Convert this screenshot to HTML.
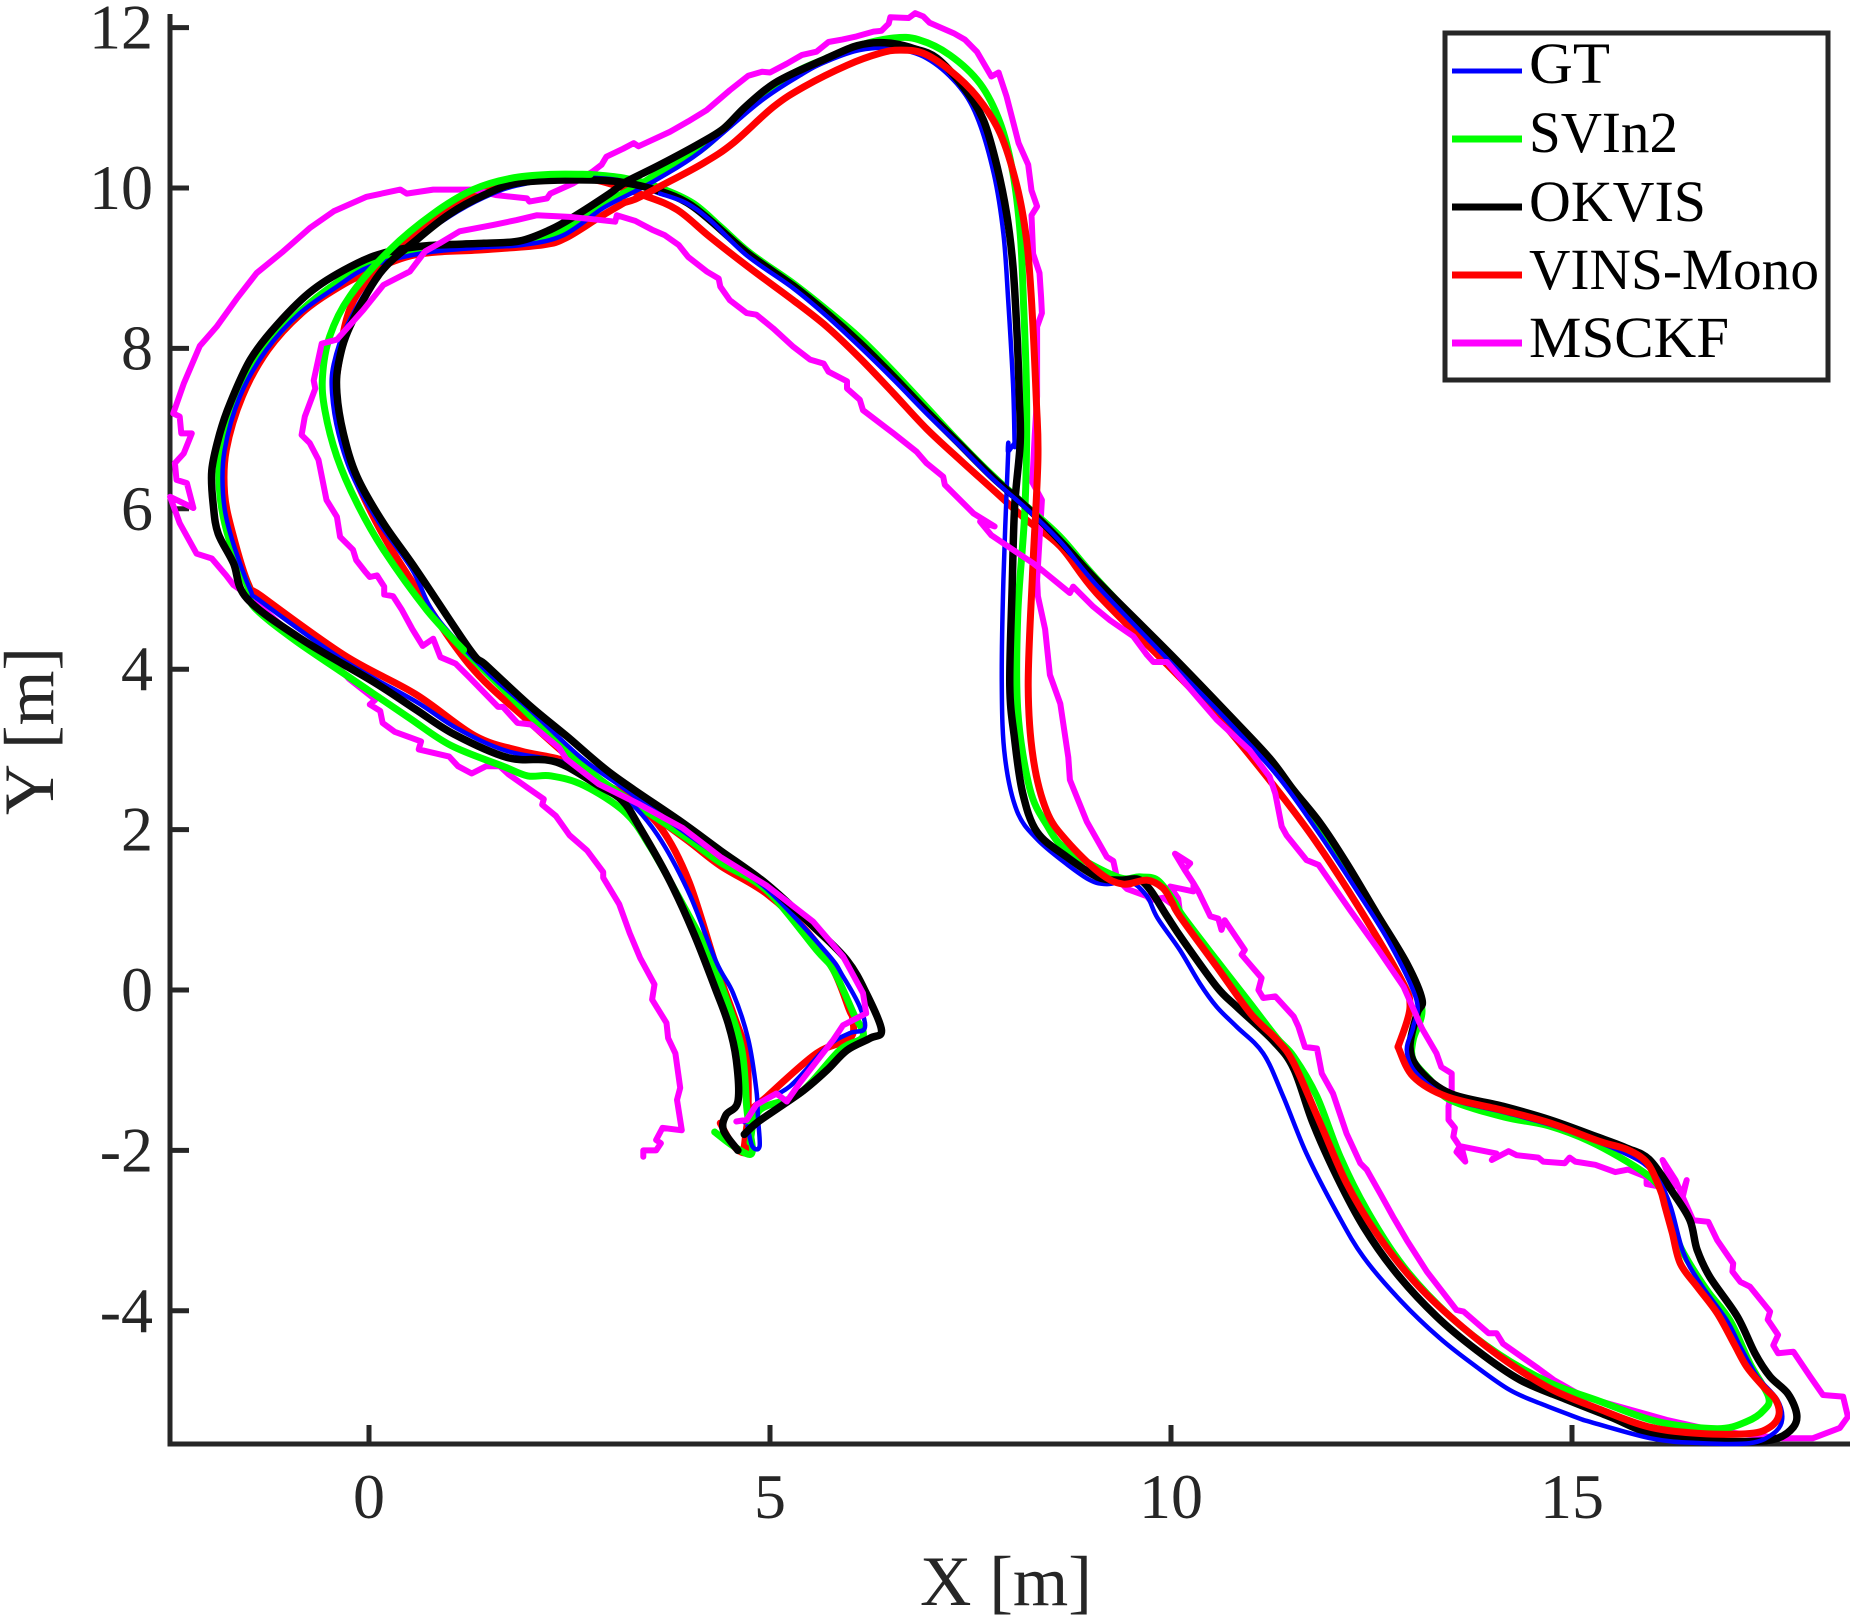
<!DOCTYPE html>
<html lang="en">
<head>
<meta charset="utf-8">
<title>Trajectory comparison</title>
<style>
html,body{margin:0;padding:0;background:#fff;}
#chart{display:block;width:1850px;height:1621px;font-family:"Liberation Serif",serif;}
</style>
</head>
<body>
<svg id="chart" xmlns="http://www.w3.org/2000/svg" width="1850" height="1621" viewBox="0 0 1850 1621">
<defs><clipPath id="plot-clip"><rect x="165" y="0" width="1685" height="1447"/></clipPath></defs>
<g id="axes"></g>
<g id="series" clip-path="url(#plot-clip)" fill="none" stroke-linejoin="round" stroke-linecap="round"></g>
<text x="1006" y="1605" font-size="71" fill="#262626" text-anchor="middle" textLength="172" lengthAdjust="spacingAndGlyphs">X [m]</text>
<text transform="translate(53,731) rotate(-90)" font-size="71" fill="#262626" text-anchor="middle" textLength="168" lengthAdjust="spacingAndGlyphs">Y [m]</text>
<g id="legend">
<rect x="1445" y="33" width="383" height="347" fill="#fff" stroke="#262626" stroke-width="5"/>
<line x1="1452" x2="1522" y1="71" y2="71" stroke="#0000ff" stroke-width="5"/>
<text x="1529" y="83" font-size="58" fill="#000" textLength="81" lengthAdjust="spacingAndGlyphs">GT</text>
<line x1="1452" x2="1522" y1="139" y2="139" stroke="#00ff00" stroke-width="7"/>
<text x="1529" y="152" font-size="58" fill="#000" textLength="149" lengthAdjust="spacingAndGlyphs">SVIn2</text>
<line x1="1452" x2="1522" y1="207" y2="207" stroke="#000000" stroke-width="7"/>
<text x="1529" y="221" font-size="58" fill="#000" textLength="177" lengthAdjust="spacingAndGlyphs">OKVIS</text>
<line x1="1452" x2="1522" y1="275" y2="275" stroke="#ff0000" stroke-width="7"/>
<text x="1529" y="289" font-size="58" fill="#000" textLength="290" lengthAdjust="spacingAndGlyphs">VINS-Mono</text>
<line x1="1452" x2="1522" y1="343" y2="343" stroke="#ff00ff" stroke-width="7"/>
<text x="1529" y="357" font-size="58" fill="#000" textLength="200" lengthAdjust="spacingAndGlyphs">MSCKF</text>
</g>
</svg>
<script>
const xTicks = [0, 5, 10, 15];
const yTicks = [-4, -2, 0, 2, 4, 6, 8, 10, 12];

// Each series is split into consecutive stretches because the draw order changes along the run.
const gtOutbound = [[4.72,-1.7],[4.78,-1.95],[4.87,-1.95],[4.85,-1.6],[4.83,-1.25],[4.73,-0.62],[4.54,-0.04],[4.33,0.35],[3.99,1.21],[3.6,1.93],[3.21,2.38],[2.86,2.57],[2.46,2.83],[1.72,2.98],[1.1,3.26],[0.58,3.6],[-0.3,4.1],[-1.34,4.84],[-1.48,4.99],[-1.73,5.69],[-1.82,6.19],[-1.8,6.73],[-1.61,7.4],[-1.28,7.98],[-0.86,8.44],[-0.4,8.77],[0.01,9.02],[0.68,9.19],[1.43,9.26],[1.92,9.29],[2.42,9.41],[2.92,9.75],[3.34,9.97],[3.63,10.13],[4.13,10.45],[4.88,11.08],[5.4,11.42],[5.71,11.58],[6.12,11.72],[6.54,11.74],[6.95,11.62],[7.33,11.3],[7.58,10.89],[7.79,10.18],[7.91,9.43],[7.97,8.6],[8.03,7.56],[8.05,6.82],[8.05,6.82],[7.97,6.71],[7.97,6.71],[7.91,5.11],[7.89,3.79],[7.93,2.9],[8.08,2.23],[8.33,1.88],[8.7,1.57],[8.99,1.37],[9.2,1.32],[9.49,1.35],[9.7,1.17],[9.83,0.9],[10.11,0.5],[10.36,0.08],[10.57,-0.21],[10.82,-0.46],[11.15,-0.79],[11.4,-1.33],[11.69,-2.04],[12.07,-2.78],[12.4,-3.33],[12.86,-3.87],[13.35,-4.34],[13.81,-4.7],[14.23,-4.99],[14.64,-5.17],[15.14,-5.36]];
const gtMiddle = [[15.14,-5.36],[15.98,-5.59],[16.6,-5.65],[17.22,-5.65],[17.51,-5.53],[17.62,-5.36],[17.56,-5.11],[17.31,-4.82],[17.1,-4.45],[16.93,-4.12],[16.6,-3.66],[16.39,-3.28],[16.23,-2.7],[16.08,-2.37],[15.89,-2.16],[15.56,-1.99],[15.15,-1.83],[14.73,-1.68],[14.14,-1.52],[13.48,-1.35],[13.06,-1.04],[12.94,-0.75],[13.02,-0.46],[13.06,-0.12],[12.73,0.58],[12.31,1.25],[11.82,1.99],[11.32,2.68],[10.69,3.37],[9.96,4.12],[9.07,5.05],[8.62,5.59],[8.2,6.0],[7.79,6.36],[7.37,6.78],[6.95,7.19],[6.54,7.61],[6.12,8.02],[5.71,8.4],[5.29,8.75],[4.71,9.16],[4.25,9.6],[3.96,9.81],[3.63,9.93]];
const gtInbound = [[3.63,9.93],[3.1,10.1],[2.46,10.12],[1.84,10.03],[1.43,9.88],[1.01,9.65],[0.55,9.32],[0.1,8.9],[-0.28,8.27],[-0.44,7.8],[-0.46,7.44],[-0.38,6.94],[-0.2,6.4],[0.13,5.82],[0.54,5.24],[0.84,4.65],[1.46,3.98],[2.0,3.5],[2.64,2.9],[3.2,2.5],[3.86,2.02],[4.38,1.66],[4.96,1.26],[5.71,0.46],[5.91,0.17],[6.12,-0.21],[6.18,-0.48],[5.99,-0.54],[5.71,-0.71],[5.25,-1.2],[4.87,-1.41],[4.68,-1.65]];

const svin2Outbound = [[4.31,-1.77],[4.55,-1.95],[4.77,-2.04],[4.74,-1.7],[4.71,-1.46],[4.65,-0.75],[4.46,-0.13],[4.21,0.5],[3.91,1.07],[3.51,1.78],[3.2,2.21],[2.68,2.55],[2.27,2.67],[1.98,2.67],[1.67,2.79],[1.02,3.05],[0.49,3.4],[-0.29,3.93],[-0.95,4.38],[-1.43,4.77],[-1.5,5.0],[-1.74,5.6],[-1.86,6.19],[-1.84,6.73],[-1.64,7.4],[-1.3,7.98],[-0.86,8.46],[-0.4,8.82],[0.01,9.05],[0.68,9.22],[1.43,9.29],[1.92,9.33],[2.42,9.47],[2.92,9.8],[3.34,10.02],[3.63,10.2],[4.13,10.47],[4.46,10.76],[4.88,11.14],[5.29,11.43],[5.71,11.62],[6.12,11.78],[6.54,11.87],[6.85,11.85],[7.24,11.66],[7.62,11.3],[7.87,10.81],[8.03,10.18],[8.12,9.43],[8.16,8.6],[8.2,7.36],[8.18,6.02],[8.09,4.69],[8.09,3.48],[8.24,2.51],[8.45,2.06],[8.7,1.75],[9.33,1.41],[9.61,1.41],[9.83,1.37],[10.03,1.12],[10.15,0.92],[10.57,0.37],[10.99,-0.17],[11.32,-0.6],[11.53,-0.83],[11.82,-1.33],[12.11,-2.08],[12.44,-2.74],[12.9,-3.45],[13.48,-4.07],[14.1,-4.55],[14.73,-4.9],[15.35,-5.13],[16.06,-5.38],[16.81,-5.47],[17.18,-5.38],[17.39,-5.24],[17.45,-5.07],[17.22,-4.66],[16.97,-4.12],[16.68,-3.74],[16.39,-3.28],[16.27,-2.99],[16.16,-2.62],[15.97,-2.33],[15.31,-1.93],[14.73,-1.7],[14.14,-1.58],[13.48,-1.37],[13.23,-1.12],[13.02,-0.87],[13.02,-0.62],[13.13,-0.25],[12.98,0.17],[12.44,1.12],[11.82,2.04],[11.15,2.91],[10.1,4.03],[9.07,5.13],[8.62,5.65],[8.2,6.03],[7.79,6.4],[7.37,6.82],[6.95,7.27],[6.54,7.71],[6.12,8.13],[5.71,8.48],[5.29,8.81],[4.75,9.19],[4.38,9.52],[4.04,9.81],[3.63,10.0],[3.2,10.12],[2.76,10.17]];
const svin2Middle = [[2.76,10.17],[2.26,10.17],[1.76,10.12],[1.3,9.98],[0.8,9.68],[0.26,9.23],[-0.24,8.65],[-0.49,8.15],[-0.58,7.65],[-0.55,7.23],[-0.4,6.65],[-0.15,6.07],[0.18,5.49],[0.72,4.74],[1.18,4.24]];
const svin2Inbound = [[1.18,4.24],[1.98,3.45],[2.68,2.79],[3.2,2.4],[3.91,1.93],[4.38,1.59],[4.96,1.24],[5.58,0.5],[5.79,0.25],[6.04,-0.29],[6.16,-0.58],[5.87,-0.75],[5.37,-1.29],[4.87,-1.5],[4.75,-1.9]];

const okvisPath = [[4.6,-2.0],[4.42,-1.75],[4.45,-1.56],[4.6,-1.39],[4.58,-0.87],[4.48,-0.42],[4.31,0.04],[4.04,0.73],[3.73,1.4],[3.38,2.02],[3.16,2.36],[2.86,2.55],[2.46,2.79],[2.2,2.87],[1.72,2.9],[1.06,3.19],[0.58,3.5],[0.06,3.84],[-0.82,4.36],[-1.52,4.88],[-1.69,5.32],[-1.88,5.69],[-1.94,6.03],[-1.96,6.48],[-1.86,6.94],[-1.73,7.32],[-1.48,7.86],[-1.15,8.29],[-0.7,8.73],[-0.15,9.06],[0.26,9.21],[0.72,9.28],[1.43,9.31],[1.88,9.34],[2.26,9.48],[2.55,9.64],[3.0,9.93],[3.21,10.08],[3.63,10.29],[4.13,10.56],[4.42,10.74],[4.67,10.99],[4.96,11.24],[5.21,11.39],[5.67,11.6],[6.04,11.76],[6.29,11.81],[6.54,11.8],[6.79,11.74],[7.08,11.62],[7.41,11.26],[7.66,10.85],[7.83,10.27],[7.95,9.68],[8.03,9.02],[8.08,8.19],[8.11,7.36],[8.12,6.82],[8.05,6.02],[8.02,5.04],[7.99,3.79],[8.05,3.13],[8.15,2.46],[8.33,1.97],[8.7,1.66],[9.08,1.41],[9.36,1.37],[9.59,1.38],[9.74,1.25],[9.95,0.92],[10.15,0.62],[10.57,0.04],[10.82,-0.21],[11.28,-0.64],[11.53,-0.98],[11.77,-1.66],[12.07,-2.33],[12.4,-2.95],[12.81,-3.53],[13.31,-4.07],[13.81,-4.49],[14.35,-4.86],[14.89,-5.09],[15.47,-5.32],[15.98,-5.53],[16.6,-5.61],[17.22,-5.63],[17.56,-5.59],[17.76,-5.45],[17.8,-5.28],[17.69,-5.03],[17.47,-4.82],[17.28,-4.53],[17.06,-4.07],[16.72,-3.58],[16.56,-3.24],[16.47,-2.87],[16.26,-2.53],[15.97,-2.12],[15.68,-1.97],[15.31,-1.83],[14.73,-1.62],[14.14,-1.45],[13.48,-1.29],[13.1,-1.0],[12.98,-0.71],[13.07,-0.29],[13.13,-0.12],[12.94,0.33],[12.56,0.96],[12.19,1.58],[11.86,2.08],[11.53,2.49],[11.23,2.89],[10.78,3.37],[10.0,4.18],[9.07,5.11],[8.62,5.6],[8.2,6.02],[7.79,6.38],[7.37,6.8],[6.95,7.22],[6.54,7.65],[6.12,8.07],[5.71,8.44],[5.29,8.78],[4.73,9.18],[4.25,9.6],[3.96,9.82],[3.63,9.96],[3.1,10.08],[2.46,10.1],[1.84,10.06],[1.43,9.91],[1.01,9.68],[0.59,9.35],[0.14,8.94],[-0.24,8.27],[-0.38,7.81],[-0.4,7.44],[-0.32,6.94],[-0.15,6.4],[0.18,5.82],[0.59,5.24],[1.26,4.24],[1.46,4.05],[2.0,3.55],[2.46,3.17],[3.03,2.69],[3.86,2.12],[4.38,1.74],[4.96,1.32],[5.54,0.79],[5.96,0.37],[6.2,-0.04],[6.39,-0.5],[6.25,-0.6],[5.96,-0.75],[5.71,-1.0],[5.42,-1.25],[5.12,-1.46],[4.83,-1.66],[4.68,-1.8]];

const vinsOutbound = [[4.38,-1.66],[4.55,-1.95],[4.71,-2.02],[4.75,-1.75],[4.73,-1.5],[4.71,-0.83],[4.54,-0.29],[4.33,0.29],[3.99,1.35],[3.64,2.02],[3.21,2.42],[2.86,2.6],[2.46,2.85],[1.89,2.98],[1.32,3.17],[0.58,3.69],[-0.3,4.17],[-1.34,4.91],[-1.5,5.05],[-1.7,5.69],[-1.8,6.19],[-1.78,6.73],[-1.58,7.4],[-1.26,7.98],[-0.84,8.44],[-0.4,8.75],[-0.03,8.94],[0.59,9.17],[1.43,9.23],[2.17,9.29],[2.46,9.38],[2.88,9.64],[3.19,9.82]];
const vinsMiddle = [[3.19,9.82],[3.34,9.87],[3.63,10.02],[4.17,10.31],[4.54,10.56],[5.04,11.01],[5.42,11.26],[5.96,11.53],[6.37,11.68],[6.62,11.72],[6.91,11.68],[7.24,11.47],[7.58,11.14],[7.87,10.68],[8.08,10.02],[8.2,9.35],[8.26,8.6],[8.32,7.36],[8.34,6.6],[8.27,5.13],[8.22,3.79],[8.28,2.9],[8.45,2.23],[8.7,1.86],[9.11,1.46],[9.4,1.32],[9.7,1.37],[9.9,1.27],[10.01,1.1],[10.11,0.92],[10.57,0.29],[10.99,-0.29],[11.32,-0.62],[11.53,-0.91],[11.86,-1.66],[12.19,-2.41],[12.56,-3.03],[13.02,-3.62],[13.48,-4.07],[14.1,-4.57],[14.73,-4.97],[15.35,-5.23],[15.97,-5.45],[16.6,-5.53],[17.22,-5.53],[17.47,-5.45],[17.58,-5.3],[17.54,-5.11],[17.39,-4.95],[17.18,-4.7],[17.02,-4.41],[16.81,-4.03],[16.56,-3.7],[16.35,-3.41],[16.25,-3.03],[16.16,-2.7],[16.1,-2.49],[15.94,-2.16],[15.69,-1.99],[15.35,-1.89],[14.73,-1.66],[14.14,-1.5],[13.44,-1.33],[13.02,-1.08],[12.83,-0.71]];
const vinsInbound = [[12.83,-0.71],[12.98,-0.21],[12.85,0.17],[12.31,1.08],[11.82,1.83],[11.36,2.45],[10.61,3.37],[9.96,4.05],[9.07,4.95],[8.62,5.53],[8.2,5.86],[7.79,6.23],[7.37,6.61],[6.95,7.0],[6.54,7.44],[6.12,7.88],[5.71,8.27],[5.29,8.6],[4.75,9.0],[4.25,9.39],[3.84,9.73],[3.42,9.91],[2.82,10.1],[2.31,10.1],[1.57,10.02],[0.97,9.72],[0.4,9.28],[-0.19,8.6],[-0.38,7.8],[-0.4,7.34],[-0.25,6.6],[0.08,5.85],[0.5,5.15],[1.24,4.07],[1.98,3.36],[2.68,2.75],[3.25,2.38],[3.95,1.88],[4.38,1.55],[4.96,1.2],[5.47,0.72],[5.79,0.25],[5.99,-0.25],[6.03,-0.35],[6.0,-0.6],[5.58,-0.79],[4.96,-1.33],[4.75,-1.54],[4.68,-1.95]];

const msckfOutbound = [[3.42,-2.08],[3.42,-2.0],[3.58,-2.0],[3.64,-1.91],[3.58,-1.87],[3.66,-1.72],[3.9,-1.75],[3.84,-1.37],[3.88,-1.22],[3.82,-0.79],[3.73,-0.6],[3.71,-0.41],[3.53,-0.12],[3.56,0.07],[3.38,0.4],[3.25,0.71],[3.12,1.07],[2.92,1.4],[2.92,1.47],[2.72,1.74],[2.5,1.93],[2.33,2.17],[2.16,2.31],[2.18,2.38],[1.98,2.52],[1.74,2.69],[1.63,2.79],[1.46,2.79],[1.28,2.7],[1.11,2.79],[1.0,2.91],[0.62,3.0],[0.65,3.1],[0.32,3.22],[0.17,3.33],[0.14,3.48],[0.01,3.56],[0.08,3.62],[-0.25,3.88],[-0.51,4.17],[-0.99,4.46],[-1.56,4.96],[-1.69,5.05],[-1.78,5.17],[-1.96,5.38],[-2.15,5.44],[-2.36,5.82],[-2.48,6.15],[-2.19,6.01],[-2.27,6.32],[-2.4,6.36],[-2.42,6.57],[-2.31,6.69],[-2.21,6.94],[-2.34,6.94],[-2.36,7.15],[-2.44,7.19],[-2.31,7.56],[-2.11,8.03],[-1.9,8.27],[-1.65,8.62],[-1.4,8.94],[-1.07,9.21],[-0.74,9.5],[-0.44,9.71],[-0.03,9.89],[0.39,9.98],[0.47,9.93],[0.8,9.98],[1.3,9.98],[1.59,9.91],[1.97,9.87],[2.0,9.83],[2.22,9.87],[2.26,9.93],[2.55,10.06],[2.78,10.2],[2.9,10.29],[2.96,10.39],[3.17,10.49],[3.3,10.56],[3.36,10.52],[3.75,10.7],[3.98,10.83],[4.21,10.97],[4.5,11.22],[4.73,11.4],[4.9,11.45],[5.0,11.44],[5.21,11.55],[5.4,11.66],[5.58,11.7],[5.73,11.82],[5.9,11.85],[6.08,11.89],[6.29,11.95],[6.39,11.96],[6.48,12.05],[6.5,12.13],[6.73,12.12],[6.81,12.18],[6.91,12.14],[6.99,12.06],[7.29,11.93],[7.43,11.85],[7.58,11.7],[7.76,11.39],[7.85,11.44],[7.95,11.14],[8.1,10.56],[8.22,10.29],[8.26,9.97],[8.33,9.77],[8.26,9.66],[8.28,9.18],[8.36,8.94],[8.38,8.64],[8.39,8.44],[8.33,8.27],[8.33,7.4],[8.3,6.91],[8.27,6.33],[8.39,6.11],[8.33,5.11],[8.34,4.91],[8.43,4.5],[8.49,3.93],[8.62,3.57],[8.72,2.9],[8.74,2.62],[8.95,2.1],[9.2,1.66],[9.28,1.61],[9.33,1.38],[9.45,1.26],[9.7,1.17],[9.74,1.12],[9.9,1.15],[10.07,1.03],[10.11,0.98],[10.09,1.14],[9.99,1.29],[10.28,1.23],[10.28,1.33],[10.17,1.5],[10.24,1.58],[10.05,1.7],[10.17,1.5],[10.28,1.33],[10.34,1.23],[10.49,0.92],[10.59,0.89],[10.63,0.75],[10.67,0.87],[10.92,0.5],[10.88,0.44],[11.13,0.15],[11.09,0.0],[11.15,-0.1],[11.3,-0.08],[11.53,-0.33],[11.59,-0.46],[11.67,-0.71],[11.82,-0.73],[11.88,-1.04],[12.02,-1.29],[12.19,-1.79],[12.36,-2.16],[12.44,-2.24],[12.61,-2.54],[12.77,-2.83],[12.94,-3.12],[13.19,-3.51],[13.56,-3.99],[13.65,-4.01],[13.96,-4.28],[14.06,-4.28],[14.14,-4.41],[14.58,-4.72],[14.77,-4.86],[15.14,-5.07],[15.97,-5.3],[16.18,-5.36],[16.8,-5.5],[17.63,-5.59],[18.0,-5.59],[18.34,-5.46],[18.44,-5.32],[18.38,-5.07],[18.13,-5.05],[17.97,-4.82],[17.76,-4.51],[17.57,-4.53],[17.51,-4.43],[17.57,-4.3],[17.44,-4.11],[17.47,-4.01],[17.22,-3.7],[17.1,-3.64],[17.0,-3.51],[17.01,-3.41],[16.81,-3.12],[16.7,-2.89],[16.51,-2.87],[16.38,-2.58],[16.43,-2.37],[16.37,-2.56],[16.29,-2.37],[16.13,-2.12],[16.26,-2.46],[16.19,-2.47],[15.93,-2.42],[15.93,-2.33],[15.7,-2.24],[15.54,-2.27],[15.29,-2.18],[15.04,-2.14],[14.97,-2.09],[14.91,-2.16],[14.64,-2.14],[14.58,-2.09],[14.31,-2.06],[14.21,-2.01],[14.0,-2.12],[14.06,-2.04],[13.62,-1.95],[13.67,-2.14],[13.56,-2.02],[13.6,-1.95],[13.52,-1.83],[13.54,-1.72],[13.46,-1.62],[13.46,-1.45],[13.5,-1.25],[13.5,-1.04],[13.37,-0.96],[13.31,-0.79],[13.13,-0.48]];
const msckfInbound = [[13.13,-0.48],[12.9,0.04],[12.56,0.54],[12.23,1.0],[11.84,1.56],[11.69,1.62],[11.44,1.93],[11.38,2.04],[11.3,2.45],[11.23,2.66],[10.98,2.99],[10.57,3.37],[9.95,4.09],[9.78,4.09],[9.7,4.18],[9.53,4.41],[9.24,4.61],[9.03,4.78],[8.78,5.03],[8.74,4.95],[8.41,5.22],[8.28,5.32],[7.76,5.67],[7.62,5.84],[7.8,5.78],[7.54,5.94],[7.18,6.3],[7.16,6.4],[6.95,6.57],[6.83,6.71],[6.54,6.94],[6.16,7.23],[6.12,7.36],[5.96,7.5],[5.96,7.59],[5.73,7.71],[5.67,7.81],[5.5,7.86],[5.29,8.02],[5.04,8.25],[4.83,8.42],[4.71,8.44],[4.5,8.6],[4.38,8.77],[4.36,8.87],[4.21,8.96],[3.98,9.14],[3.86,9.29],[3.69,9.41],[3.53,9.48],[3.32,9.59],[3.09,9.66],[3.07,9.58],[2.8,9.61],[2.5,9.64],[2.09,9.66],[1.84,9.6],[1.55,9.54],[1.13,9.46],[0.88,9.31],[0.7,9.21],[0.51,8.96],[0.18,8.79],[-0.07,8.48],[-0.4,8.11],[-0.59,8.06],[-0.69,7.6],[-0.67,7.5],[-0.8,7.15],[-0.84,6.92],[-0.74,6.82],[-0.63,6.61],[-0.53,6.11],[-0.4,5.9],[-0.36,5.65],[-0.2,5.49],[-0.16,5.36],[-0.05,5.22],[0.01,5.15],[0.1,5.17],[0.19,5.03],[0.19,4.93],[0.3,4.91],[0.41,4.74],[0.54,4.5],[0.67,4.29],[0.8,4.38],[0.89,4.15],[1.08,4.07],[1.24,3.91],[1.61,3.53],[1.67,3.53],[1.85,3.33],[2.02,3.31],[2.37,3.02],[2.46,2.88],[2.86,2.57],[3.38,2.31],[3.91,2.02],[4.38,1.66],[4.96,1.3],[5.54,0.85],[5.91,0.42],[6.16,-0.04],[6.2,-0.29],[5.91,-0.44],[5.79,-0.62],[5.37,-1.16],[5.21,-1.39],[5.08,-1.29],[4.83,-1.43],[4.71,-1.62],[4.58,-1.64]];

const SVG_NS = 'http://www.w3.org/2000/svg';
const xScale = function (v) { return 369 + v * 80.2; };
const yScale = function (v) { return 990 - v * 80.2; };

function smoothPath(points) {
  const p = points.map(function (d) { return [xScale(d[0]), yScale(d[1])]; });
  let out = 'M' + p[0][0].toFixed(1) + ' ' + p[0][1].toFixed(1);
  for (let i = 0; i < p.length - 1; i++) {
    const a = p[Math.max(i - 1, 0)], b = p[i], c = p[i + 1], d = p[Math.min(i + 2, p.length - 1)];
    out += 'C' + (b[0] + (c[0] - a[0]) / 6).toFixed(1) + ' ' + (b[1] + (c[1] - a[1]) / 6).toFixed(1) + ' ' +
      (c[0] - (d[0] - b[0]) / 6).toFixed(1) + ' ' + (c[1] - (d[1] - b[1]) / 6).toFixed(1) + ' ' +
      c[0].toFixed(1) + ' ' + c[1].toFixed(1);
  }
  return out;
}
function linePath(points) {
  return points.map(function (d, i) {
    return (i ? 'L' : 'M') + xScale(d[0]).toFixed(1) + ' ' + yScale(d[1]).toFixed(1);
  }).join('');
}
function drawLine(x1, y1, x2, y2) {
  const el = document.createElementNS(SVG_NS, 'line');
  el.setAttribute('x1', x1);
  el.setAttribute('y1', y1);
  el.setAttribute('x2', x2);
  el.setAttribute('y2', y2);
  el.setAttribute('stroke', '#262626');
  el.setAttribute('stroke-width', 5);
  return el;
}
function drawLabel(str, x, y, anchor) {
  const el = document.createElementNS(SVG_NS, 'text');
  el.setAttribute('x', x);
  el.setAttribute('y', y);
  el.setAttribute('text-anchor', anchor);
  el.setAttribute('font-size', 64);
  el.setAttribute('fill', '#262626');
  el.textContent = str;
  return el;
}

const axes = document.getElementById('axes');
const yAxisLine = drawLine(170, 14, 170, 1446.5);


axes.appendChild(yAxisLine);
const xAxisLine = drawLine(167.5, 1444, 1850, 1444);


axes.appendChild(xAxisLine);

xTicks.forEach(function (t) {
  const tick = drawLine(xScale(t), 1444, xScale(t), 1425);
  
  
  axes.appendChild(tick);
  const label = drawLabel(String(t), xScale(t), 1518, 'middle');
  
  
  axes.appendChild(label);
});
yTicks.forEach(function (t) {
  const tick = drawLine(170, yScale(t), 189, yScale(t));
  
  
  axes.appendChild(tick);
  const label = drawLabel(String(t), 153, yScale(t) + 21, 'end');
  
  
  axes.appendChild(label);
});

const seriesGroup = document.getElementById('series');
function addSeries(d, color, width) {
  const el = document.createElementNS(SVG_NS, 'path');
  el.setAttribute('d', d);
  el.setAttribute('stroke', color);
  el.setAttribute('stroke-width', width);
  seriesGroup.appendChild(el);
  return el;
}
const GT_COLOR = '#0000ff', SVIN2_COLOR = '#00ff00', OKVIS_COLOR = '#000000', VINS_COLOR = '#ff0000', MSCKF_COLOR = '#ff00ff';

const vinsA = addSeries(smoothPath(vinsOutbound), VINS_COLOR, 7);


const vinsC = addSeries(smoothPath(vinsInbound), VINS_COLOR, 7);


const msckfA = addSeries(linePath(msckfOutbound), MSCKF_COLOR, 6);


const svin2A = addSeries(smoothPath(svin2Outbound), SVIN2_COLOR, 7);


const svin2C = addSeries(smoothPath(svin2Inbound), SVIN2_COLOR, 7);


const gtA = addSeries(smoothPath(gtOutbound), GT_COLOR, 4.5);


const gtC = addSeries(smoothPath(gtInbound), GT_COLOR, 4.5);


const okvisLine = addSeries(smoothPath(okvisPath), OKVIS_COLOR, 7.5);


const svin2B = addSeries(smoothPath(svin2Middle), SVIN2_COLOR, 7);


const gtB = addSeries(smoothPath(gtMiddle), GT_COLOR, 4.5);


const vinsB = addSeries(smoothPath(vinsMiddle), VINS_COLOR, 7);


const msckfB = addSeries(linePath(msckfInbound), MSCKF_COLOR, 6);


</script>
</body>
</html>
